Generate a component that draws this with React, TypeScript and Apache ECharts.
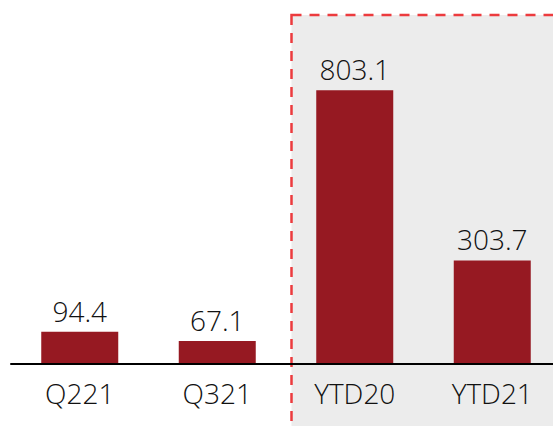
import React, { useEffect, useRef } from "react";
import * as echarts from "echarts";

const categories = ["Q221", "Q321", "YTD20", "YTD21"];
const values = [94.4, 67.1, 803.1, 303.7];

export default function App() {
  const ref = useRef<HTMLDivElement>(null);
  useEffect(() => {
    if (!ref.current) return;
    const chart = echarts.init(ref.current, undefined, { renderer: "svg" });
    const font = "'Open Sans', 'Noto Sans', sans-serif";
    chart.setOption({
      animation: false,
      grid: { left: 11, right: 0, top: 23, bottom: 62, containLabel: false },
      graphic: [
        {
          type: "rect",
          z: -10,
          shape: { x: 291.5, y: 15, width: 320, height: 450 },
          style: {
            fill: "#ECECEC",
            stroke: "#EC3B3E",
            lineWidth: 2.5,
            lineDash: [10, 8],
          },
        },
      ],
      xAxis: {
        type: "category",
        data: categories,
        z: 5,
        axisLine: { lineStyle: { color: "#000", width: 2 } },
        axisTick: { show: false },
        axisLabel: {
          color: "#111",
          fontSize: 28,
          fontWeight: 300,
          fontFamily: font,
          margin: 15,
        },
      },
      yAxis: {
        type: "value",
        min: 0,
        max: 1000,
        show: false,
        splitLine: { show: false },
      },
      series: [
        {
          type: "bar",
          data: values,
          barWidth: 77,
          itemStyle: { color: "#961922" },
          label: {
            show: true,
            position: "top",
            distance: 7,
            color: "#111",
            fontSize: 28,
            fontWeight: 300,
            fontFamily: font,
            formatter: (p: any) => p.value.toFixed(1),
          },
        },
      ],
    });
    return () => chart.dispose();
  }, []);
  return (
    <div
      style={{ position: "fixed", left: 0, top: 0, width: 553, height: 426, overflow: "hidden", background: "#fff" }}
    >
      <div ref={ref} style={{ width: 561, height: 426 }} />
    </div>
  );
}
